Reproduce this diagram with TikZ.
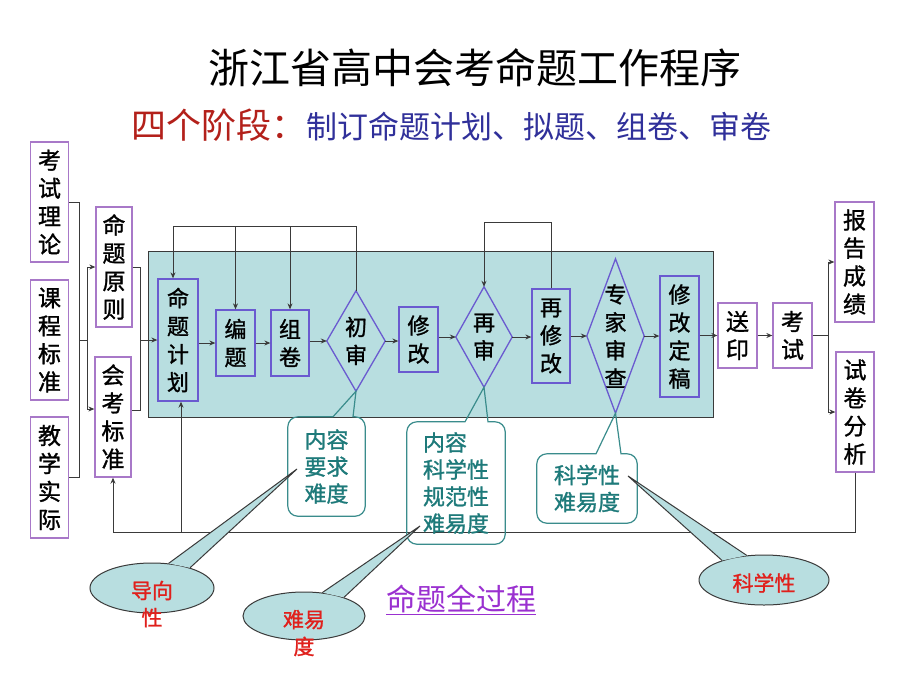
\documentclass[tikz,border=0pt]{standalone}
\usepackage{fontspec}
\setmainfont{Noto Sans CJK SC}
\newfontfamily\cjkb[FakeBold=1.2]{Noto Sans CJK SC}
\usetikzlibrary{arrows.meta,shapes.geometric,calc}
\definecolor{boxpur}{HTML}{A878C8}
\definecolor{flowpur}{HTML}{6A5AD0}
\definecolor{cyanbg}{HTML}{B8DEE0}
\definecolor{tealc}{HTML}{3A8C8C}
\definecolor{tealt}{HTML}{1E7A7A}
\definecolor{redt}{HTML}{E0201C}
\definecolor{sred}{HTML}{B3201A}
\definecolor{sblue}{HTML}{30309A}
\definecolor{purt}{HTML}{9A30D0}
\definecolor{linec}{HTML}{3A3A3A}
\begin{document}
\begin{tikzpicture}[x=1pt,y=-1pt,
 colbox/.style={draw=boxpur,fill=white,line width=1.3pt,inner sep=0pt,align=center,font=\cjkb\fontsize{23pt}{28pt}\selectfont},
 flowbox/.style={draw=flowpur,line width=1.3pt,inner sep=0pt,align=center,font=\cjkb\fontsize{22pt}{28pt}\selectfont},
 dianode/.style={inner sep=0pt,align=center,font=\cjkb\fontsize{22pt}{28pt}\selectfont},
 diaedge/.style={draw=flowpur,line width=1.3pt},
 conn/.style={draw=linec,line width=1pt},
 arr/.style={conn,-{Stealth[length=6pt,width=5pt]}},
 calloutline/.style={draw=tealc,line width=1.2pt},
 ctext/.style={text=tealt,inner sep=0pt,font=\cjkb\fontsize{22pt}{27pt}\selectfont},
 bubble/.style={ellipse,draw=linec,fill=cyanbg,line width=1pt,inner sep=0pt},
 btext/.style={text=redt,align=center,inner sep=0pt,font=\cjkb\fontsize{21pt}{27pt}\selectfont}
]
\useasboundingbox (0,0) rectangle (920,690);
\fill[white] (0,0) rectangle (920,690);

% titles
\node[inner sep=0pt,font=\fontsize{41pt}{48pt}\selectfont] (title) at (475,68) {浙江省高中会考命题工作程序};
\node[anchor=west,inner sep=0pt] (sub) at (131,125) {{\color{sred}\fontsize{35pt}{40pt}\selectfont 四个阶段：}{\color{sblue}\fontsize{31pt}{40pt}\selectfont 制订命题计划、拟题、组卷、审卷}};

% cyan panel
\node[draw=linec,fill=cyanbg,line width=1pt,minimum width=565pt,minimum height=166pt,inner sep=0pt] (panel) at (430.5,334) {};

% left column
\node[colbox,minimum width=38pt,minimum height=120pt] (kslc) at (49.5,202) {考\\试\\理\\论};
\node[colbox,minimum width=38pt,minimum height=120pt] (kcbz) at (49.5,340) {课\\程\\标\\准};
\node[colbox,minimum width=38pt,minimum height=121pt] (jxsj) at (49.5,477.5) {教\\学\\实\\际};
\node[colbox,minimum width=36pt,minimum height=120pt] (mtyz) at (114,267) {命\\题\\原\\则};
\node[colbox,minimum width=36pt,minimum height=120pt] (hkbz) at (113,417) {会\\考\\标\\准};

% flow
\node[flowbox,minimum width=40pt,minimum height=122pt] (mtjh) at (178,340) {命\\题\\计\\划};
\node[flowbox,minimum width=39pt,minimum height=66pt] (bt) at (235.5,343) {编\\题};
\node[flowbox,minimum width=38pt,minimum height=66pt] (zj) at (290,343) {组\\卷};
\node[dianode,minimum width=58pt,minimum height=100pt] (cs) at (356,341) {初\\审};
\node[flowbox,minimum width=39pt,minimum height=65pt] (xg) at (418.5,339.5) {修\\改};
\node[dianode,minimum width=56pt,minimum height=100pt] (zs) at (484,337) {再\\审};
\node[flowbox,minimum width=38pt,minimum height=94pt] (zxg) at (551,336) {再\\修\\改};
\node[dianode,minimum width=57pt,minimum height=154pt] (zjsc) at (615.5,336) {专\\家\\审\\查};
\node[flowbox,minimum width=39pt,minimum height=121pt] (dg) at (679.5,336.5) {修\\改\\定\\稿};
\foreach \n in {cs,zs,zjsc} \draw[diaedge] (\n.north) -- (\n.east) -- (\n.south) -- (\n.west) -- cycle;

\node[colbox,minimum width=39pt,minimum height=65pt] (sy) at (737.5,335.5) {送\\印};
\node[colbox,minimum width=39pt,minimum height=65pt] (ks) at (792.5,335.5) {考\\试};
\node[colbox,minimum width=39pt,minimum height=120pt] (bgcj) at (854.5,262) {报\\告\\成\\绩};
\node[colbox,minimum width=38pt,minimum height=120pt] (sjfx) at (855,412) {试\\卷\\分\\析};

% left brackets
\coordinate (lb) at (79,0);
\draw[conn] (kslc.east) -- (kslc.east -| lb) -- (jxsj.east -| lb) -- (jxsj.east);
\draw[conn] (kcbz.east -| lb) -- ++(8,0) coordinate (lb2);
\coordinate (hkin) at ([yshift=8pt]hkbz.west);
\draw[arr] (lb2 |- mtyz.west) -- (mtyz.west);
\draw[arr] (lb2 |- mtyz.west) -- (lb2 |- hkin) -- (hkin);
\coordinate (hkout) at ([yshift=7pt]hkbz.east);
\draw[conn] (mtyz.east) -- ++(8,0) coordinate (rb1) -- (rb1 |- hkout) -- (hkout);
\draw[arr] (rb1 |- mtjh.west) -- (mtjh.west);

% flow arrows
\draw[arr] (mtjh.east |- bt.west) -- (bt.west);
\draw[arr] (bt.east) -- (zj.west);
\draw[arr] (zj.east |- cs.west) -- (cs.west);
\draw[arr] (cs.east) -- (cs.east -| xg.west);
\draw[arr] (xg.east |- zs.west) -- (zs.west);
\draw[arr] (zs.east) -- (zs.east -| zxg.west);
\draw[arr] (zxg.east |- zjsc.west) -- (zjsc.west);
\draw[arr] (zjsc.east) -- (zjsc.east -| dg.west);
\draw[arr] (dg.east |- sy.west) -- (sy.west);
\draw[arr] (sy.east) -- (ks.west);

% top feedback
\coordinate (top1) at (0,226);
\coordinate (mjn) at ([xshift=-5pt]mtjh.north);
\draw[arr] (cs.north) -- (cs.north |- top1) -| (mjn);
\draw[arr] (bt.north |- top1) -- (bt.north);
\draw[arr] (zj.north |- top1) -- (zj.north);
\coordinate (top2) at (0,222);
\draw[arr] (zxg.north) -- (zxg.north |- top2) -| (zs.north);

% right branch
\draw[conn] (ks.east) -- ++(16,0) coordinate (rb2);
\draw[arr] (rb2) |- (bgcj.west);
\draw[arr] (rb2) |- (sjfx.west);

% bottom feedback
\coordinate (bot) at (0,532);
\coordinate (mjs) at ([xshift=3pt]mtjh.south);
\draw[arr] (sjfx.south) |- (hkbz.south |- bot) -- (hkbz.south);
\draw[arr] (mjs |- bot) -- (mjs);

% callouts
\node[ctext,align=center,minimum width=77pt,minimum height=99pt] (c1) at (326.5,466.5) {内容\\要求\\难度};
\draw[calloutline] (cs.south) -- ([xshift=26.5pt]c1.north) [rounded corners=10pt] -- (c1.north east) -- (c1.south east) -- (c1.south west) -- (c1.north west) [sharp corners] -- ([xshift=6.5pt]c1.north) -- cycle;
\node[ctext,align=left,minimum width=98pt,minimum height=122pt] (c2) at (456,483) {内容\\科学性\\规范性\\难易度};
\draw[calloutline] (zs.south) -- ([xshift=32pt]c2.north) [rounded corners=10pt] -- (c2.north east) -- (c2.south east) -- (c2.south west) -- (c2.north west) [sharp corners] -- ([xshift=9pt]c2.north) -- cycle;
\node[ctext,align=center,minimum width=100pt,minimum height=69pt] (c3) at (587,488.5) {科学性\\难易度};
\draw[calloutline] (zjsc.south) -- ([xshift=34pt]c3.north) [rounded corners=10pt] -- (c3.north east) -- (c3.south east) -- (c3.south west) -- (c3.north west) [sharp corners] -- ([xshift=9pt]c3.north) -- cycle;

% bubbles
\coordinate (p1) at (297,469);
\coordinate (p2) at (420,526);
\coordinate (p3) at (628,476);
\node[bubble,minimum width=124pt,minimum height=50pt] (e1) at (152,588) {};
\fill[cyanbg] (e1.56) -- (p1) -- (e1.28) -- cycle;
\draw[conn] (e1.56) -- (p1) -- (e1.28);
\node[bubble,minimum width=122pt,minimum height=48pt] (e2) at (304,616) {};
\fill[cyanbg] (e2.52) -- (p2) -- (e2.25) -- cycle;
\draw[conn] (e2.52) -- (p2) -- (e2.25);
\node[bubble,minimum width=130pt,minimum height=50pt] (e3) at (764,580) {};
\fill[cyanbg] (e3.155) -- (p3) -- (e3.125) -- cycle;
\draw[conn] (e3.155) -- (p3) -- (e3.125);
\node[btext] (t1) at (152,604) {导向\\性};
\node[btext] (t2) at (304,633) {难易\\度};
\node[btext] (t3) at (764,583) {科学性};

\node[text=purt,inner sep=0pt,font=\fontsize{30pt}{36pt}\selectfont] (whole) at (461,600) {\underline{命题全过程}};
\end{tikzpicture}
\end{document}
